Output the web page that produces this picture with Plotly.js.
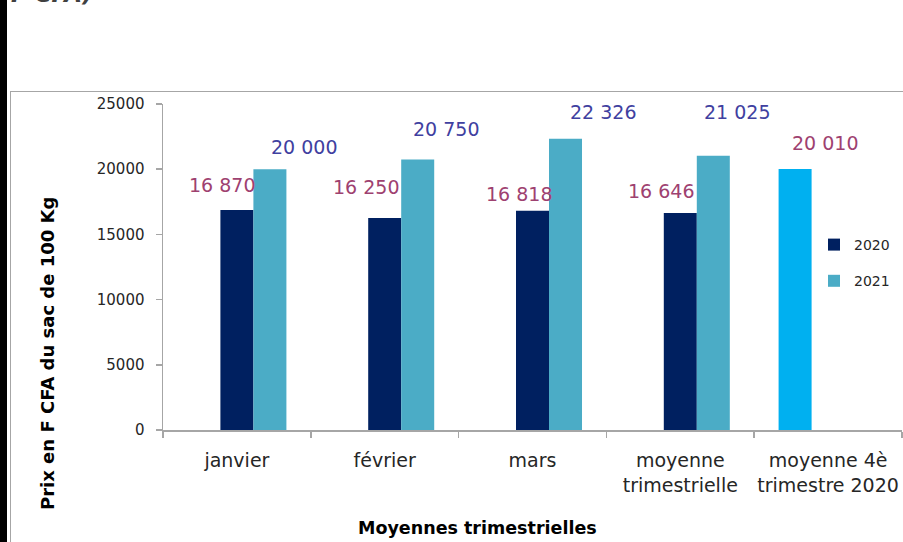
<!DOCTYPE html>
<html>
<head>
<meta charset="utf-8">
<script src="https://cdn.plot.ly/plotly-3.0.1.min.js"></script>
<style>
  html, body { margin:0; padding:0; background:#ffffff; width:903px; height:542px; overflow:hidden; }
  #bar { position:absolute; left:0; top:0; width:7px; height:542px; background:#000; }
  #box { position:absolute; left:10px; top:91px; width:1000px; height:1000px; border:1.5px solid #a6a6a6; box-sizing:border-box; }
  #chart { position:absolute; left:0; top:0; width:903px; height:542px; }
</style>
</head>
<body>
<div id="bar"></div>
<div id="box"></div>
<div id="chart"></div>
<script>
// ---- data ----
const categories = ["janvier", "février", "mars", "moyenne<br>trimestrielle", "moyenne 4è<br>trimestre 2020"];
const values2020 = [16870, 16250, 16818, 16646, null];
const values2021 = [20000, 20750, 22326, 21025, null];
const valuesT4 = [null, null, null, null, 20010];

// label placement (pixel offsets from category centre / bar top)
const shift2020 = [[-15, 25], [-19, 31], [-14, 17], [-19, 22]];
const shift2021 = [[67, 22], [61, 30], [70, 27], [57, 44]];
const shiftT4 = [[-3, 26]];

function fmt(v) { return String(v).replace(/\B(?=(\d{3})+(?!\d))/g, " "); }

const cT4 = "#00B0F0", c2020 = "#002060", c2021 = "#4BACC6";
const lab2020 = "#9E4170", lab2021 = "#4040A0";

const traces = [
  { type: "bar", name: "T4", x: categories, y: valuesT4, marker: { color: cT4 }, showlegend: false, hoverinfo: "skip" },
  { type: "bar", name: "2020", x: categories, y: values2020, marker: { color: c2020 }, legendgroup: "a" },
  { type: "bar", name: "2021", x: categories, y: values2021, marker: { color: c2021 }, legendgroup: "b" }
];

const annotations = [];
values2020.forEach((v, i) => {
  if (v == null) return;
  annotations.push({ x: categories[i], y: v, xref: "x", yref: "y", text: fmt(v), showarrow: false,
    xshift: shift2020[i][0], yshift: shift2020[i][1], font: { size: 19, color: lab2020 } });
});
values2021.forEach((v, i) => {
  if (v == null) return;
  annotations.push({ x: categories[i], y: v, xref: "x", yref: "y", text: fmt(v), showarrow: false,
    xshift: shift2021[i][0], yshift: shift2021[i][1], font: { size: 19, color: lab2021 } });
});
let k = 0;
valuesT4.forEach((v, i) => {
  if (v == null) return;
  annotations.push({ x: categories[i], y: v, xref: "x", yref: "y", text: fmt(v), showarrow: false,
    xshift: shiftT4[k][0], yshift: shiftT4[k][1], font: { size: 19, color: lab2020 } });
  k++;
});
// axis titles
annotations.push({ xref: "paper", yref: "paper", x: (47 - 163) / 739, y: (430 - 354) / 326,
  text: "<b>Prix en F CFA du sac de 100 Kg</b>", textangle: -90, showarrow: false,
  font: { size: 18, color: "#000" }, xanchor: "center", yanchor: "middle" });
annotations.push({ xref: "paper", yref: "paper", x: (477 - 163) / 739, y: (430 - 528) / 326,
  text: "<b>Moyennes trimestrielles</b>", showarrow: false,
  font: { size: 17.5, color: "#000" }, xanchor: "center", yanchor: "middle" });
// cropped heading
annotations.push({ xref: "paper", yref: "paper", x: (9 - 163) / 739, y: (430 - 9) / 326,
  text: "<b><i>F CFA)</i></b>", showarrow: false,
  font: { size: 23, color: "#404040" }, xanchor: "left", yanchor: "bottom" });

const layout = {
  width: 903, height: 542,
  margin: { l: 163, r: 1, t: 104, b: 112 },
  paper_bgcolor: "rgba(0,0,0,0)", plot_bgcolor: "rgba(0,0,0,0)",
  font: { family: "DejaVu Sans, sans-serif", color: "#262626" },
  barmode: "group", bargap: 0.33, bargroupgap: 0,
  xaxis: {
    type: "category", showgrid: false, zeroline: false,
    showline: true, linecolor: "#a6a6a6", linewidth: 1.5,
    ticks: "outside", tickson: "boundaries", ticklen: 6, tickcolor: "#a6a6a6", tickwidth: 1.5,
    ticklabelstandoff: 13, tickangle: 0,
    tickfont: { size: 19, color: "#262626" }
  },
  yaxis: {
    range: [0, 25000], dtick: 5000, tickformat: "d",
    showgrid: false, zeroline: false,
    showline: true, linecolor: "#a6a6a6", linewidth: 1.5,
    ticks: "outside", ticklen: 6, tickcolor: "#a6a6a6", tickwidth: 1.5,
    ticklabelstandoff: 8,
    tickfont: { size: 15, color: "#262626" }
  },
  legend: {
    x: (814 - 163) / 739, y: (430 - 229) / 326, xanchor: "left", yanchor: "top",
    bgcolor: "rgba(0,0,0,0)", traceorder: "grouped", tracegroupgap: 15,
    font: { size: 14, color: "#262626" }
  },
  annotations: annotations,
  showlegend: true
};

Plotly.newPlot("chart", traces, layout, { displayModeBar: false, staticPlot: true });
</script>
</body>
</html>
